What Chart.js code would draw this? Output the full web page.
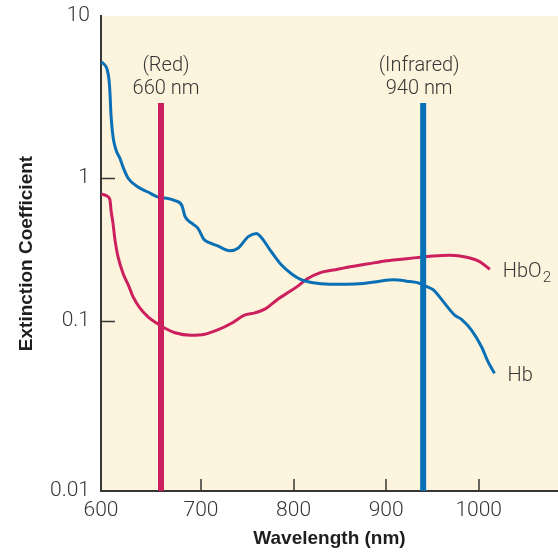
<!DOCTYPE html>
<html>
<head>
<meta charset="utf-8">
<script src="https://cdn.jsdelivr.net/npm/chart.js@4/dist/chart.umd.min.js"></script>
<style>
  html, body { margin: 0; padding: 0; background: #ffffff; }
  canvas { display: block; }
</style>
</head>
<body>
<canvas id="chart" width="558" height="553"></canvas>
<script>
// Axis ticks
const wavelengthTicks = [600, 700, 800, 900, 1000];
const coefTicks = [0.01, 0.1, 1, 10];
const coefTickLabels = ['0.01', '0.1', '1', '10'];

// Deoxyhemoglobin (Hb) extinction curve
const hbNm = [600, 603, 606, 608, 609, 610, 612, 615, 619, 622, 627, 637, 647, 657, 664, 674, 681, 684, 690, 697,
  703, 709, 718, 731, 740, 751, 760, 765, 776, 787, 798, 807, 821, 839, 857, 875, 893, 908, 922, 937,
  942, 951, 962, 974, 982, 992, 1003, 1010, 1017];
const hbCoef = [5.22, 5.05, 4.7, 4.05, 3.33, 2.45, 1.80, 1.49, 1.32, 1.17, 1.0, 0.865, 0.798, 0.736, 0.725, 0.694, 0.64, 0.54, 0.487, 0.445,
  0.373, 0.353, 0.335, 0.31, 0.323, 0.389, 0.41, 0.385, 0.305, 0.246, 0.213, 0.196, 0.185, 0.181, 0.181, 0.183, 0.19, 0.194, 0.19, 0.183,
  0.176, 0.165, 0.136, 0.110, 0.102, 0.0886, 0.0706, 0.0577, 0.0492];

// Oxyhemoglobin (HbO2) extinction curve
const hbo2Nm = [600, 606, 609, 610, 612, 614, 617, 622, 628, 632, 639, 647, 656, 664, 674, 690, 704, 718, 733,
  747, 758, 769, 783, 794, 805, 814, 829, 843, 857, 879, 901, 922, 937, 951, 969, 987, 1001, 1012];
const hbo2Coef = [0.773, 0.748, 0.70, 0.597, 0.482, 0.368, 0.282, 0.216, 0.174, 0.148, 0.123, 0.107, 0.0969, 0.0906, 0.0853, 0.0824, 0.0835, 0.0886, 0.097,
  0.110, 0.114, 0.121, 0.142, 0.158, 0.176, 0.196, 0.218, 0.227, 0.237, 0.25, 0.264, 0.273, 0.279, 0.285, 0.288, 0.279, 0.26, 0.23];

// Pulse-oximetry LED wavelengths
const markerNm = [660, 940];
const markerTop = [2.9, 2.9];
const markerNames = ['(Red)', '(Infrared)'];
const markerLabels = ['660 nm', '940 nm'];

const RED = '#cc1f5e';
const BLUE = '#0a70b6';
const INK = '#363636';
const PAPER = '#fdf4dd';
const FONT = 'Roboto, "Open Sans", sans-serif';
const BOLD_FONT = '"Liberation Sans", Arial, sans-serif';

// Piecewise-linear lookup with end-segment extrapolation
function interp(v, xs, ys) {
  let i = 0;
  while (i < xs.length - 2 && v > xs[i + 1]) i++;
  const t = (v - xs[i]) / (xs[i + 1] - xs[i]);
  return ys[i] + t * (ys[i + 1] - ys[i]);
}

// Axes of the printed figure do not space their tick intervals evenly,
// so each interval gets its own share of the axis length.
function unevenScale(Base, id, toT, fromT, knots, shares) {
  class Uneven extends Base {
    getPixelForValue(value) {
      if (value === null || value === undefined || isNaN(value)) return NaN;
      return this.getPixelForDecimal(interp(toT(value), knots, shares));
    }
    getValueForPixel(pixel) {
      return fromT(interp(this.getDecimalForPixel(pixel), shares, knots));
    }
  }
  Uneven.id = id;
  return Uneven;
}

const UnevenLinear = unevenScale(Chart.LinearScale, 'unevenLinear',
  v => v, t => t, [600, 700, 1000, 1085.5], [0, 0.2188, 0.8265, 1]);
const UnevenLog = unevenScale(Chart.LogarithmicScale, 'unevenLog',
  v => Math.log10(v), t => Math.pow(10, t), [-2, -1, 0, 1], [0, 0.3579, 0.6589, 1]);
Chart.register(UnevenLinear, UnevenLog);

const plotDecor = {
  id: 'plotDecor',
  beforeDraw(chart) {
    const { ctx, chartArea: a } = chart;
    ctx.save();
    ctx.fillStyle = PAPER;
    ctx.fillRect(a.left, a.top, a.right - a.left, a.bottom - a.top);
    ctx.restore();
  },
  afterDraw(chart) {
    const { ctx, chartArea: a, scales } = chart;
    ctx.save();
    // inward tick marks
    ctx.strokeStyle = INK;
    ctx.lineWidth = 1.5;
    ctx.beginPath();
    scales.y.ticks.forEach(t => {
      if (t.value <= scales.y.min || t.value >= scales.y.max) return;
      const y = Math.round(scales.y.getPixelForValue(t.value)) + 0.5;
      ctx.moveTo(a.left, y);
      ctx.lineTo(a.left + 14, y);
    });
    scales.x.ticks.forEach(t => {
      if (t.value <= scales.x.min || t.value >= scales.x.max) return;
      const x = Math.round(scales.x.getPixelForValue(t.value));
      ctx.moveTo(x, a.bottom);
      ctx.lineTo(x, a.bottom - 12);
    });
    ctx.stroke();

    // wavelength annotations above the LED lines
    ctx.fillStyle = INK;
    ctx.textAlign = 'center';
    ctx.textBaseline = 'alphabetic';
    ctx.font = '300 20px ' + FONT;
    const shift = [5, -4];
    markerNm.forEach((nm, i) => {
      const x = scales.x.getPixelForValue(nm) + shift[i];
      const top = scales.y.getPixelForValue(markerTop[i]);
      ctx.fillText(markerLabels[i], x, top - 9);
      ctx.fillText(markerNames[i], x, top - 32);
    });

    // curve names at the end of each curve
    ctx.textAlign = 'left';
    const endOf = idx => {
      const pts = chart.getDatasetMeta(idx).data;
      return pts[pts.length - 1];
    };
    const pHbO2 = endOf(3);
    ctx.font = '300 20px ' + FONT;
    ctx.fillText('HbO', pHbO2.x + 13, pHbO2.y + 7.5);
    const w = ctx.measureText('HbO').width;
    ctx.font = '300 15px ' + FONT;
    ctx.fillText('2', pHbO2.x + 13 + w + 1, pHbO2.y + 12.5);
    const pHb = endOf(2);
    ctx.font = '300 20px ' + FONT;
    ctx.fillText('Hb', pHb.x + 13, pHb.y + 7.5);
    ctx.restore();
  }
};

const toPoints = (xs, ys) => xs.map((x, i) => ({ x, y: ys[i] }));
const markerLine = i => [{ x: markerNm[i], y: markerTop[i] }, { x: markerNm[i], y: coefTicks[0] }];

new Chart(document.getElementById('chart'), {
  type: 'line',
  data: {
    datasets: [
      { label: '660 nm', data: markerLine(0), borderColor: RED, borderWidth: 6, borderCapStyle: 'butt', tension: 0, pointRadius: 0, order: 0 },
      { label: '940 nm', data: markerLine(1), borderColor: BLUE, borderWidth: 6, borderCapStyle: 'butt', tension: 0, pointRadius: 0, order: 0 },
      { label: 'Hb', data: toPoints(hbNm, hbCoef), borderColor: BLUE, borderWidth: 3, pointRadius: 0, cubicInterpolationMode: 'monotone', order: 1 },
      { label: 'HbO2', data: toPoints(hbo2Nm, hbo2Coef), borderColor: RED, borderWidth: 3, pointRadius: 0, cubicInterpolationMode: 'monotone', order: 1 }
    ]
  },
  options: {
    responsive: false,
    animation: false,
    events: [],
    layout: { padding: { top: 16, left: 0, right: 0, bottom: 0 } },
    plugins: { legend: { display: false }, tooltip: { enabled: false } },
    scales: {
      x: {
        type: 'unevenLinear',
        min: 600,
        max: 1085.5,
        afterBuildTicks: s => { s.ticks = wavelengthTicks.map(v => ({ value: v })); },
        afterFit: s => { s.height = 62; s.paddingRight = 0; },
        grid: { display: true, drawOnChartArea: false, drawTicks: false },
        border: { display: true, color: INK, width: 2 },
        ticks: { color: INK, padding: 7, maxRotation: 0, autoSkip: false, font: { family: FONT, size: 21, weight: '300' },
                 callback: v => String(v) },
        title: { display: true, text: 'Wavelength (nm)', color: '#1e1e1e', padding: { top: 0, bottom: 3 },
                 font: { family: BOLD_FONT, size: 19, weight: 'bold' } }
      },
      y: {
        type: 'unevenLog',
        min: 0.01,
        max: 10,
        afterBuildTicks: s => { s.ticks = coefTicks.map(v => ({ value: v })); },
        afterFit: s => { s.width = 101; s.paddingTop = 0; s.paddingBottom = 0; },
        grid: { display: true, drawOnChartArea: false, drawTicks: false },
        border: { display: true, color: INK, width: 2 },
        ticks: { color: INK, padding: 11, autoSkip: false, font: { family: FONT, size: 21, weight: '300' },
                 callback: v => coefTickLabels[coefTicks.indexOf(v)] },
        title: { display: true, text: 'Extinction Coefficient', color: '#1e1e1e', padding: { top: 15, bottom: 0 },
                 font: { family: BOLD_FONT, size: 19, weight: 'bold' } }
      }
    }
  },
  plugins: [plotDecor]
});
</script>
</body>
</html>
